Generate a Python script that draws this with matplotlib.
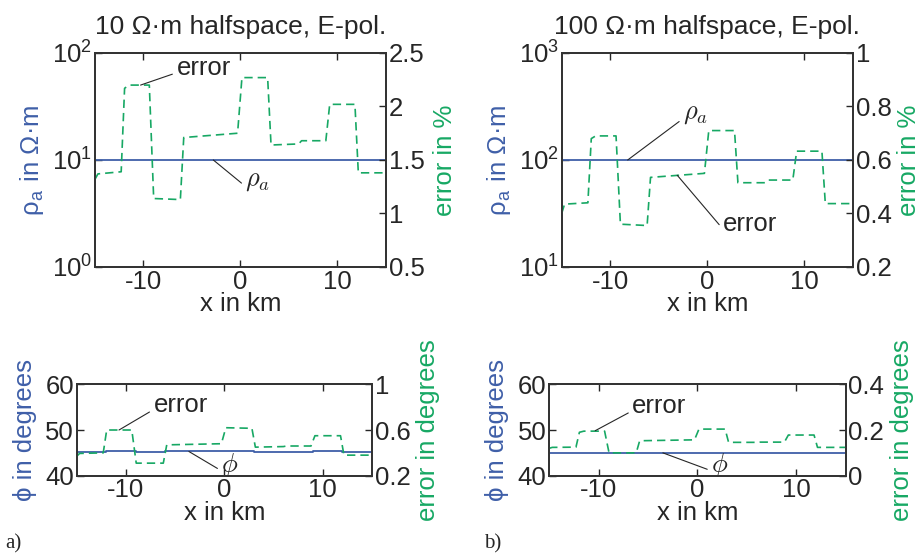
import numpy as np
import matplotlib
matplotlib.use('Agg')
import matplotlib.pyplot as plt
from matplotlib.ticker import FormatStrFormatter, NullLocator

plt.rcParams['font.family'] = ['Liberation Sans', 'DejaVu Sans']
plt.rcParams['mathtext.fontset'] = 'cm'
plt.rcParams['axes.unicode_minus'] = False
plt.rcParams['xtick.direction'] = 'in'
plt.rcParams['ytick.direction'] = 'in'
plt.rcParams['axes.linewidth'] = 1.3

blue = '#3f5fa8'
green = '#17a864'
dark = '#262626'

# rho_a / phase model curves (flat halfspace response)
x_line = [-15, -12, -9, -6, 0, 3, 9, 12, 15]
rho_a10 = [10, 10, 10, 10, 10, 10, 10, 10, 10]
rho_a100 = [100, 100, 100, 100, 100, 100, 100, 100, 100]
phi_a = [45.1, 45.3, 45.1, 45.3, 45.35, 45.25, 45.3, 45.2, 45.2]
phi_b = [45.0, 45.0, 45.0, 45.0, 45.0, 45.0, 45.0, 45.0, 45.0]

# error curves (vertices)
x_err = [-15, -14.7, -12.3, -11.95, -11.5, -9.4, -8.95, -6.2, -5.85,
         -0.3, 0.15, 2.8, 3.15, 6.0, 6.3, 8.8, 9.2, 11.8, 12.15, 15]
err_rho10 = [1.32, 1.37, 1.39, 2.17, 2.20, 2.20, 1.14, 1.13, 1.71,
             1.75, 2.27, 2.27, 1.64, 1.65, 1.68, 1.68, 2.02, 2.02, 1.38, 1.38]
err_rho100 = [0.40, 0.435, 0.44, 0.68, 0.69, 0.69, 0.36, 0.355, 0.535,
              0.55, 0.71, 0.71, 0.515, 0.515, 0.525, 0.525, 0.633, 0.633, 0.437, 0.437]
err_phi10 = [0.37, 0.395, 0.40, 0.60, 0.60, 0.60, 0.31, 0.31, 0.47,
             0.48, 0.62, 0.615, 0.45, 0.455, 0.46, 0.46, 0.55, 0.55, 0.38, 0.38]
err_phi100 = [0.12, 0.124, 0.125, 0.19, 0.195, 0.195, 0.10, 0.10, 0.153,
              0.157, 0.204, 0.204, 0.146, 0.146, 0.147, 0.147, 0.178, 0.178, 0.124, 0.124]

fig = plt.figure(figsize=(9.17, 5.56), dpi=100)

dash = (0, (5, 3))
fs_tick = 18.5
fs_lab = 18.5


def style(ax, right=False):
    ax.tick_params(labelsize=fs_tick, colors=dark, length=5, width=1, pad=2,
                   top=not right, right=False, left=not right)
    ax.yaxis.set_minor_locator(NullLocator())
    for s in ax.spines.values():
        s.set_color('#333333')


def annot(ax, text, xy, xytext, size=18.5):
    ax.annotate(text, xy=xy, xytext=xytext, fontsize=size, color=dark,
                ha='left', va='center',
                arrowprops=dict(arrowstyle='-', color=dark, lw=0.8,
                                shrinkA=1, shrinkB=0, relpos=(0, 0.3)))


def top_panel(rect, rho, err, ylim, elim, eticks, title, rpad=6):
    ax = fig.add_axes(rect)
    ax.set_yscale('log')
    ax.plot(x_line, rho, color=blue, lw=1.3)
    ax.set_xlim(-15, 15)
    ax.set_ylim(*ylim)
    ax.set_xticks([-10, 0, 10])
    ax.set_xlabel('x in km', fontsize=fs_lab, color=dark, labelpad=-1)
    ax.set_ylabel(r'ρ$_\mathregular{a}$ in Ω·m', fontsize=fs_lab,
                  color=blue, labelpad=4)
    ax.set_title(title, fontsize=19, color=dark, pad=14)
    style(ax)
    ax2 = ax.twinx()
    ax2.plot(x_err, err, color=green, lw=1.2, ls=dash)
    ax2.set_ylim(*elim)
    ax2.set_yticks(eticks)
    ax2.yaxis.set_major_formatter(FormatStrFormatter('%g'))
    ax2.set_ylabel('error in %', fontsize=fs_lab, color=green, labelpad=rpad)
    style(ax2, right=True)
    ax2.tick_params(right=True)
    return ax, ax2


def bottom_panel(rect, phi, err, elim, eticks):
    ax = fig.add_axes(rect)
    ax.plot(x_line, phi, color=blue, lw=1.3, drawstyle='steps-post')
    ax.set_xlim(-15, 15)
    ax.set_ylim(40, 60)
    ax.set_xticks([-10, 0, 10])
    ax.set_yticks([40, 50, 60])
    ax.set_xlabel('x in km', fontsize=fs_lab, color=dark, labelpad=-1)
    ax.set_ylabel('ϕ in degrees', fontsize=fs_lab, color=blue, labelpad=6)
    style(ax)
    ax2 = ax.twinx()
    ax2.plot(x_err, err, color=green, lw=1.2, ls=dash)
    ax2.set_ylim(*elim)
    ax2.set_yticks(eticks)
    ax2.yaxis.set_major_formatter(FormatStrFormatter('%g'))
    ax2.set_ylabel('error in degrees', fontsize=fs_lab, color=green, labelpad=4)
    style(ax2, right=True)
    ax2.tick_params(right=True)
    return ax, ax2


# a) 10 Ohm-m
a1, a1e = top_panel([0.1036, 0.5198, 0.3173, 0.3849], rho_a10, err_rho10,
                    (1, 100), (0.5, 2.5), [0.5, 1, 1.5, 2, 2.5],
                    '10 Ω·m halfspace, E-pol.')
annot(a1e, 'error', (-10.3, 2.2), (-6.6, 2.36))
annot(a1, r'$\rho_a$', (-2.8, 10), (0.5, 6.3), size=19)

b1, b1e = top_panel([0.6125, 0.5198, 0.3177, 0.3849], rho_a100, err_rho100,
                    (10, 1000), (0.2, 1.0), [0.2, 0.4, 0.6, 0.8, 1],
                    '100 Ω·m halfspace, E-pol.', rpad=3.5)
annot(b1, r'$\rho_a$', (-8.2, 100), (-2.5, 270), size=19)
annot(b1e, 'error', (-3.1, 0.543), (1.6, 0.36))

a2, a2e = bottom_panel([0.0836, 0.1444, 0.3221, 0.1644], phi_a, err_phi10,
                       (0.2, 1.0), [0.2, 0.6, 1])
annot(a2e, 'error', (-10.7, 0.60), (-7.2, 0.82))
annot(a2, r'$\phi$', (-3.6, 45.3), (-0.3, 42.3), size=19)

b2, b2e = bottom_panel([0.599, 0.1444, 0.3232, 0.1644], phi_b, err_phi100,
                       (0, 0.4), [0, 0.2, 0.4])
annot(b2e, 'error', (-10.35, 0.197), (-6.6, 0.305))
annot(b2, r'$\phi$', (-3.5, 45.0), (1.4, 42.3), size=19)

fig.text(0.006, 0.013, 'a)', fontsize=15, family='Liberation Serif', color=dark)
fig.text(0.528, 0.013, 'b)', fontsize=15, family='Liberation Serif', color=dark)

fig.savefig('out.png', dpi=100)
